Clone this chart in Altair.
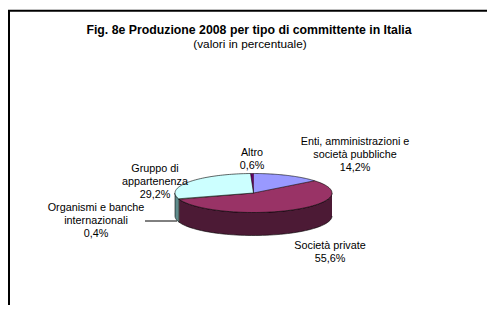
import altair as alt
import pandas as pd

# ---------------- data ----------------
categories = [
    "Enti, amministrazioni e società pubbliche",
    "Società private",
    "Organismi e banche internazionali",
    "Gruppo di appartenenza",
    "Altro",
]
label_lines = [
    ["Enti, amministrazioni e", "società pubbliche"],
    ["Società private"],
    ["Organismi e banche", "internazionali"],
    ["Gruppo di", "appartenenza"],
    ["Altro"],
]
values = [14.2, 55.6, 0.4, 29.2, 0.6]
top_colors = ["#9999FF", "#993366", "#FFFFCC", "#CCFFFF", "#660066"]
side_colors = ["#4D4D80", "#4C1A35", "#80806A", "#5F8C8C", "#330033"]

title_text = "Fig. 8e Produzione 2008 per tipo di committente in Italia"
subtitle_text = "(valori in percentuale)"

# ---------------- layout (window pixel coords) ----------------
W, H = 479, 297
CX, CY, RX, RY, DEPTH = 253.5, 193.0, 78.5, 19.5, 23.0
label_pos = [(355, 144.5), (330, 248.5), (96, 210.5), (155, 171.5), (252, 155.5)]
FONT = "Liberation Sans"
N = 60

df = pd.DataFrame({
    "cat": categories,
    "value": values,
    "order": list(range(len(values))),
    "top": top_colors,
    "side": side_colors,
})

labels_df = pd.DataFrame({
    "text": ["\n".join(lines + [f"{v:.1f}".replace(".", ",") + "%"])
             for lines, v in zip(label_lines, values)],
    "lx": [p[0] for p in label_pos],
    "ly": [p[1] for p in label_pos],
})

xs = alt.Scale(domain=[8, 8 + W], nice=False, zero=False)
ys = alt.Scale(domain=[8, 8 + H], nice=False, zero=False, reverse=True)

base = alt.Chart(df).transform_window(
    cum="sum(value)", sort=[alt.SortField("order")], frame=[None, 0]
).transform_calculate(
    a1="datum.cum / 100 * 2 * PI",
    a0="(datum.cum - datum.value) / 100 * 2 * PI",
)

side = base.transform_calculate(
    b0="max(datum.a0, PI / 2)", b1="min(datum.a1, 3 * PI / 2)"
).transform_filter("datum.b1 > datum.b0").transform_calculate(
    step=f"sequence(0, {2 * N + 2})"
).transform_flatten(["step"]).transform_calculate(
    ang=f"datum.step <= {N} ? datum.b0 + datum.step / {N} * (datum.b1 - datum.b0)"
        f" : datum.b1 - (datum.step - {N + 1}) / {N} * (datum.b1 - datum.b0)",
).transform_calculate(
    px=f"{CX} + {RX} * sin(datum.ang)",
    py=f"{CY} - {RY} * cos(datum.ang) + (datum.step <= {N} ? 0 : {DEPTH})",
).mark_line(stroke="#000000", strokeWidth=0.6, strokeJoin="round").encode(
    x=alt.X("px:Q", scale=xs, axis=None),
    y=alt.Y("py:Q", scale=ys, axis=None),
    order="step:Q",
    detail="cat:N",
    fill=alt.Fill("side:N", scale=None),
)

top = base.transform_calculate(
    step=f"sequence(-1, {N + 1})"
).transform_flatten(["step"]).transform_calculate(
    ang=f"datum.a0 + max(datum.step, 0) / {N} * (datum.a1 - datum.a0)",
).transform_calculate(
    px=f"datum.step < 0 ? {CX} : {CX} + {RX} * sin(datum.ang)",
    py=f"datum.step < 0 ? {CY} : {CY} - {RY} * cos(datum.ang)",
).mark_line(stroke="#000000", strokeWidth=0.6, strokeJoin="round").encode(
    x=alt.X("px:Q", scale=xs, axis=None),
    y=alt.Y("py:Q", scale=ys, axis=None),
    order="step:Q",
    detail="cat:N",
    fill=alt.Fill("top:N", scale=None),
)

labels = alt.Chart(labels_df).mark_text(
    font=FONT, fontSize=10.8, lineBreak="\n", lineHeight=13,
    align="center", baseline="alphabetic", color="#000000",
).encode(
    x=alt.X("lx:Q", scale=xs, axis=None),
    y=alt.Y("ly:Q", scale=ys, axis=None),
    text="text:N",
)

leader = alt.Chart(df).mark_rule(color="#000000", strokeWidth=1).encode(
    x=alt.value(145 - 8), x2=alt.value(177 - 8), y=alt.value(221 - 8)
).transform_filter("datum.order == 0")

title = alt.Chart(pd.DataFrame({"t": [title_text]})).mark_text(
    font=FONT, fontSize=12.3, fontWeight="bold", align="center",
    baseline="alphabetic", color="#000000",
).encode(text="t:N", x=alt.value(249 - 8), y=alt.value(34.2 - 8))

subtitle = alt.Chart(pd.DataFrame({"t": [subtitle_text]})).mark_text(
    font=FONT, fontSize=11.8, align="center", baseline="alphabetic",
    color="#000000",
).encode(text="t:N", x=alt.value(250 - 8), y=alt.value(48 - 8))

frame_v = alt.Chart(pd.DataFrame({"t": [0]})).mark_rule(
    color="#000000", strokeWidth=2
).encode(x=alt.value(1), y=alt.value(2.7), y2=alt.value(H))
frame_h = alt.Chart(pd.DataFrame({"t": [0]})).mark_rule(
    color="#000000", strokeWidth=2
).encode(x=alt.value(0), x2=alt.value(W), y=alt.value(2.7))

chart = alt.layer(
    side, top, leader, labels, title, subtitle, frame_v, frame_h
).properties(
    width=W, height=H, padding=0, autosize=alt.AutoSizeParams(type="none"),
    background="#FFFFFF",
).configure_view(stroke=None)

chart.save("out.html", embed_options={"renderer": "svg", "actions": False})
